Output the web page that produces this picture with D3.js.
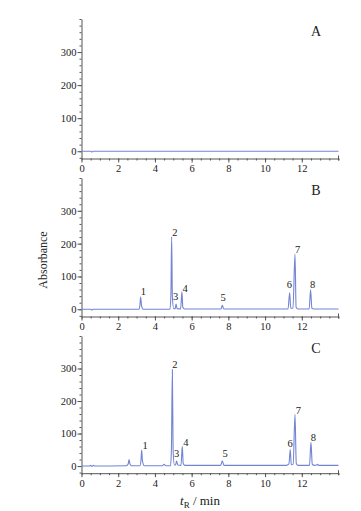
<!DOCTYPE html>
<html>
<head>
<meta charset="utf-8">
<script src="https://cdn.jsdelivr.net/npm/d3@7"></script>
<style>
  body { margin: 0; background: #fff; }
  svg { display: block; font-family: "Liberation Serif", "DejaVu Serif", serif; }
</style>
</head>
<body>
<svg id="chart"></svg>
<script>
// chromatogram traces, [time (min), absorbance]
const traceA = [
  [0, 0], [0.5, 0], [0.56, -2.5], [0.62, 0], [14, 0]
];
const traceB = [
  [0, 0], [0.5, 0], [0.56, -2.5], [0.62, 0],
  [3.12, 0], [3.18, 12], [3.22, 37], [3.27, 12], [3.36, 0],
  [4.82, 0], [4.87, 45], [4.91, 221], [4.95, 40], [5.02, 2],
  [5.1, 2], [5.15, 16], [5.21, 2],
  [5.4, 1], [5.47, 53], [5.52, 6], [5.62, 1],
  [7.6, 1], [7.67, 12], [7.75, 1],
  [11.25, 1], [11.34, 50], [11.4, 3],
  [11.52, 4], [11.63, 168], [11.69, 6], [11.78, 1],
  [12.4, 1], [12.48, 59], [12.55, 3], [12.65, 1],
  [14, 1]
];
const traceC = [
  [0, 0], [0.45, 0], [0.5, 2], [0.56, -1], [0.65, 2], [0.72, 0],
  [2.45, 1], [2.54, 6], [2.59, 20], [2.64, 6], [2.72, 1],
  [3.18, 1], [3.24, 18], [3.28, 49], [3.32, 16], [3.42, 1],
  [4.4, 1], [4.5, 5], [4.6, 1],
  [4.85, 1], [4.9, 55], [4.95, 297], [4.99, 50], [5.06, 3],
  [5.12, 3], [5.18, 15], [5.25, 3],
  [5.42, 2], [5.49, 61], [5.54, 8], [5.64, 2],
  [7.58, 2], [7.67, 16], [7.76, 2],
  [11.18, 2], [11.25, 5], [11.3, 6], [11.37, 51], [11.43, 4],
  [11.53, 6], [11.63, 159], [11.7, 8], [11.8, 2],
  [12.42, 2], [12.5, 73], [12.57, 6], [12.68, 2], [12.8, 3], [12.86, 5], [12.92, 2],
  [14, 2]
];

// peak numbers: [time, absorbance, label]
const labelsB = [
  [3.37, 42, '1'], [5.09, 223, '2'], [5.13, 27, '3'], [5.64, 54, '4'],
  [7.72, 24, '5'], [11.32, 65, '6'], [11.77, 172, '7'], [12.59, 65, '8']
];
const labelsC = [
  [3.46, 51, '1'], [5.09, 301, '2'], [5.18, 28, '3'], [5.69, 63, '4'],
  [7.82, 28, '5'], [11.36, 58, '6'], [11.81, 160, '7'], [12.63, 78, '8']
];

const panelNames = ['A', 'B', 'C'];
const xTicks = [0, 2, 4, 6, 8, 10, 12];
const yTicks = [0, 100, 200, 300];

const width = 361, height = 511;
const svg = d3.select('#chart').attr('width', width).attr('height', height);

const x = d3.scaleLinear().domain([0, 14]).range([81.5, 338.5]);

const panels = [
  { name: panelNames[0], trace: traceA, labels: [], top: 19, bottom: 158.5 },
  { name: panelNames[1], trace: traceB, labels: labelsB, top: 178, bottom: 316.5 },
  { name: panelNames[2], trace: traceC, labels: labelsC, top: 336, bottom: 473.2 }
];

const lineColor = '#7384d2';
const axisColor = '#555';
const textColor = '#222';

panels.forEach(p => {
  const y = d3.scaleLinear().domain([-22, 400]).range([p.bottom, p.top]);
  const g = svg.append('g');

  // minor ticks
  const yMinor = d3.range(-20, 401, 20);
  g.append('g')
    .attr('transform', `translate(${x(0)},0)`)
    .call(d3.axisLeft(y).tickValues(yMinor).tickSize(2).tickFormat(''))
    .call(a => a.select('.domain').remove());
  g.append('g')
    .attr('transform', `translate(0,${p.bottom})`)
    .call(d3.axisBottom(x).tickValues(d3.range(0, 14.01, 0.5)).tickSize(2).tickFormat(''))
    .call(a => a.select('.domain').remove());

  // major ticks
  g.append('g')
    .attr('transform', `translate(${x(0)},0)`)
    .call(d3.axisLeft(y).tickValues(yTicks).tickSize(4).tickPadding(1).tickSizeOuter(0));
  g.append('g')
    .attr('transform', `translate(0,${p.bottom})`)
    .call(d3.axisBottom(x).tickValues(xTicks).tickSize(4).tickPadding(2).tickSizeOuter(0));

  g.selectAll('.tick line').attr('stroke', axisColor);
  g.selectAll('.domain').attr('stroke', axisColor);
  g.selectAll('.tick text')
    .attr('fill', textColor)
    .style('font-family', '"Liberation Serif", serif')
    .style('font-size', '10.5px');

  // right end tick of x axis
  g.append('line')
    .attr('x1', x(14)).attr('x2', x(14))
    .attr('y1', p.bottom - 3).attr('y2', p.bottom + 2)
    .attr('stroke', axisColor);

  const line = d3.line()
    .x(d => x(d[0]))
    .y(d => y(d[1]))
    .curve(d3.curveMonotoneX);

  g.append('path')
    .datum(p.trace)
    .attr('d', line)
    .attr('fill', 'none')
    .attr('stroke', lineColor)
    .attr('stroke-width', 1.1);

  g.selectAll('.peak')
    .data(p.labels)
    .enter().append('text')
    .attr('class', 'peak')
    .attr('x', d => x(d[0]))
    .attr('y', d => y(d[1]))
    .attr('text-anchor', 'middle')
    .attr('fill', textColor)
    .style('font-size', '10.5px')
    .text(d => d[2]);

  g.append('text')
    .attr('x', 316)
    .attr('y', p.top + 17)
    .attr('text-anchor', 'middle')
    .attr('fill', textColor)
    .style('font-size', '14px')
    .text(p.name);
});

svg.append('text')
  .attr('transform', 'translate(47,260) rotate(-90)')
  .attr('text-anchor', 'middle')
  .attr('fill', textColor)
  .style('font-size', '12px')
  .text('Absorbance');

const xt = svg.append('text')
  .attr('x', 200)
  .attr('y', 505)
  .attr('text-anchor', 'middle')
  .attr('fill', textColor)
  .style('font-size', '13px');
xt.append('tspan').style('font-style', 'italic').text('t');
xt.append('tspan').attr('dy', 3).style('font-size', '9px').text('R');
xt.append('tspan').attr('dy', -3).text(' / min');
</script>
</body>
</html>
